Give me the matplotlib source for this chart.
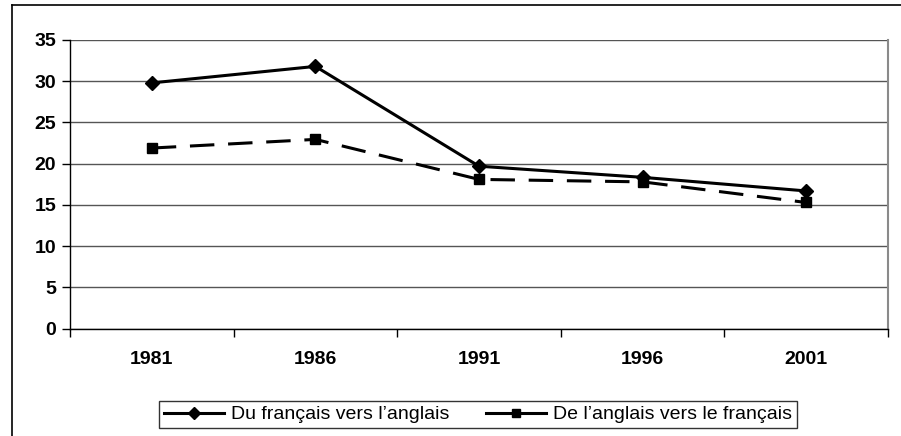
import matplotlib
matplotlib.use("Agg")
import matplotlib.pyplot as plt
from matplotlib.lines import Line2D

years = ["1981", "1986", "1991", "1996", "2001"]
fr_to_en = [29.8, 31.8, 19.7, 18.35, 16.7]
en_to_fr = [21.9, 22.95, 18.1, 17.8, 15.3]
series_labels = ["Du français vers l’anglais", "De l’anglais vers le français"]
yticks = [0, 5, 10, 15, 20, 25, 30, 35]

plt.rcParams['font.family'] = ['Liberation Sans', 'DejaVu Sans']

W, H = 901, 436
fig = plt.figure(figsize=(W / 100, H / 100), dpi=100)
ax = fig.add_axes([70 / W, 1 - 328.7 / H, (888 - 70) / W, (328.7 - 40) / H])

x = list(range(len(years)))
ax.plot(x, fr_to_en, color='black', lw=2.2, marker='D', ms=7, zorder=3)
ax.plot(x, en_to_fr, color='black', lw=2.2, marker='s', ms=7,
        linestyle=(0, (8, 4.5)), zorder=3)

ax.set_xlim(-0.5, len(years) - 0.5)
ax.set_ylim(0, 35)
ax.set_yticks(yticks)
ax.set_yticklabels([str(v) for v in yticks], fontsize=14, fontweight='bold')
ax.set_xticks([i - 0.5 for i in range(len(years) + 1)])
ax.set_xticklabels([])
ax.set_xticks(x, minor=True)
ax.set_xticklabels(years, minor=True, fontsize=14, fontweight='bold')
ax.tick_params(axis='x', which='minor', length=0, pad=16)
ax.tick_params(axis='x', which='major', length=6, direction='out', width=1, color='black')
ax.tick_params(axis='y', length=6, direction='out', width=1, pad=4)

ax.yaxis.grid(True, color='#555555', lw=1)
ax.set_axisbelow(True)
ax.spines['top'].set_visible(False)
ax.spines['right'].set_color('#8a8a8a')
ax.spines['right'].set_linewidth(1.5)
ax.spines['left'].set_color('black')
ax.spines['bottom'].set_color('black')
ax.spines['left'].set_linewidth(1)
ax.spines['bottom'].set_linewidth(1)

handles = [
    Line2D([0], [0], color='black', lw=2.2, marker='D', ms=6),
    Line2D([0], [0], color='black', lw=2.2, marker='s', ms=6),
]
leg = fig.legend(handles, series_labels, loc='center',
                 bbox_to_anchor=(478 / W, 1 - 414.5 / H), ncol=2, frameon=True,
                 fancybox=False, edgecolor='black', fontsize=14,
                 handlelength=3.1, handletextpad=0.35, columnspacing=1.9,
                 borderpad=0.25, borderaxespad=0)
leg.get_frame().set_linewidth(1)

# outer frame (top and left visible)
fig.add_artist(Line2D([12 / W, 12 / W], [0, 1 - 5.5 / H], color='black', lw=1.2,
                      transform=fig.transFigure))
fig.add_artist(Line2D([12 / W, 1], [1 - 5.5 / H, 1 - 5.5 / H], color='black', lw=1.2,
                      transform=fig.transFigure))

fig.savefig("out.png", dpi=100)
